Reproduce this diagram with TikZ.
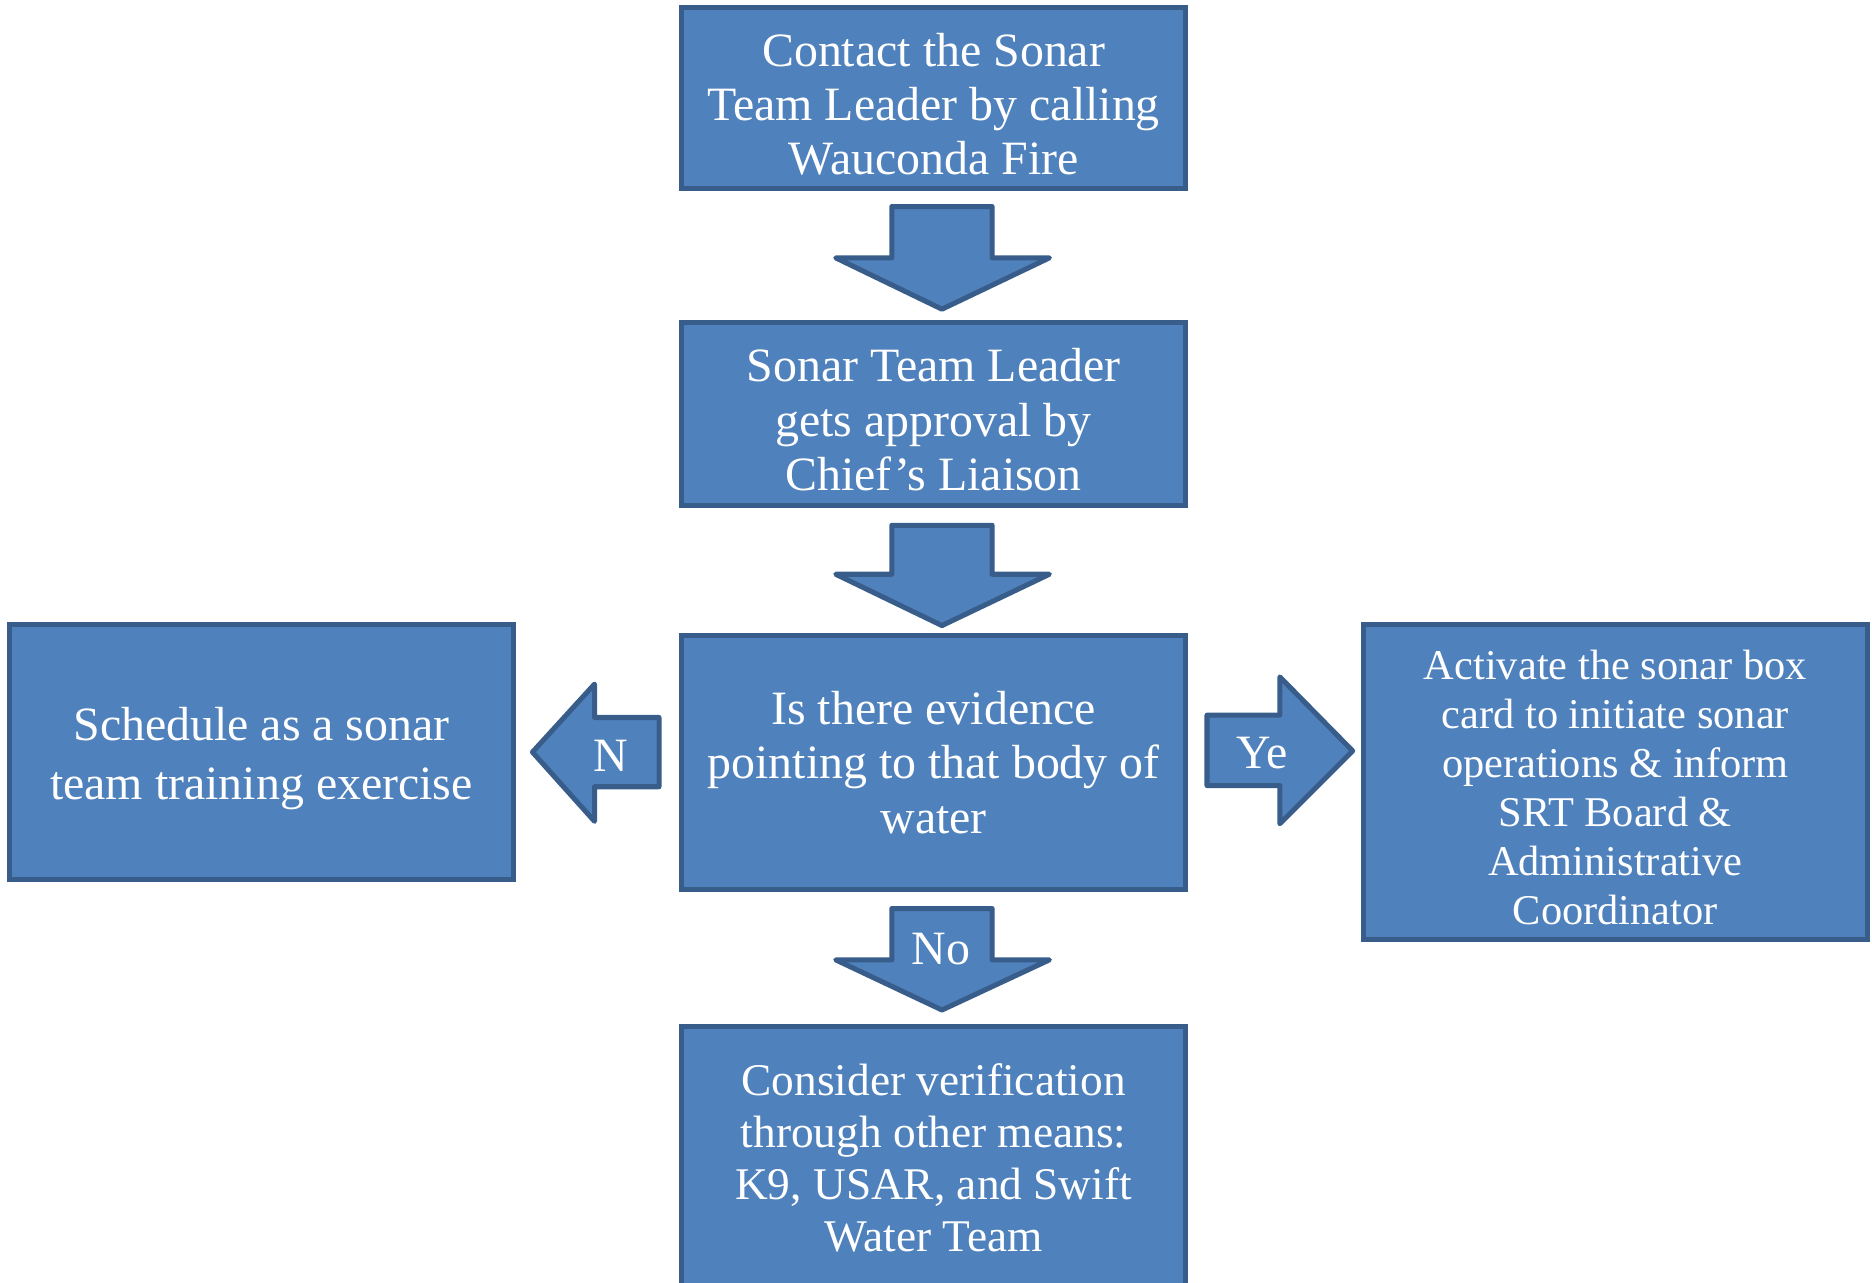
\documentclass[tikz,border=0pt]{standalone}
\usepackage{fontspec}
\setmainfont{Liberation Serif}
\definecolor{boxfill}{HTML}{4F81BD}
\definecolor{boxline}{HTML}{385D8A}
\begin{document}
\begin{tikzpicture}[x=0.01cm,y=-0.01cm,
  box/.style={draw=boxline,fill=boxfill,line width=1.2pt,text=white,align=center,
    inner ysep=0pt,minimum width=4.22cm,font=\fontsize{11.4}{12.95}\selectfont},
  blockarrow/.style={draw=boxline,fill=boxfill,line width=1.2pt,line join=round},
  arrowtext/.style={text=white,font=\fontsize{11.4}{13.7}\selectfont}]
\useasboundingbox (0,0) rectangle (1568,1074);
\clip (0,0) rectangle (1568,1074);
\node[box,minimum height=1.52cm] (contact) at (782,82) {\rule{0pt}{10.9pt}Contact the Sonar\\Team Leader by calling\\Wauconda Fire};
\node[box,minimum height=1.53cm] (approval) at (782,346.5) {\rule{0pt}{10.9pt}Sonar Team Leader\\gets approval by\\Chief’s Liaison};
\node[box,minimum height=2.13cm] (evidence) at (782,638.5) {Is there evidence\\pointing to that body of\\water};
\node[box,minimum height=2.14cm,font=\fontsize{11.4}{13.9}\selectfont] (schedule) at (219,630) {\rule{0pt}{10.9pt}Schedule as a sonar\\team training exercise};
\node[box,minimum height=2.64cm,font=\fontsize{10.1}{11.65}\selectfont] (activate) at (1353,655) {\rule{0pt}{9.6pt}Activate the sonar box\\card to initiate sonar\\operations \& inform\\SRT Board \&\\Administrative\\Coordinator};
\node[box,minimum height=2.2cm,font=\fontsize{10.8}{12.4}\selectfont] (verify) at (782,970) {Consider verification\\through other means:\\K9, USAR, and Swift\\Water Team};
\draw[blockarrow] (747,173) -- (831,173) -- (831,216) -- (879,216) -- (789,259) -- (700,216) -- (747,216) -- cycle;
\draw[blockarrow] (747,440) -- (831,440) -- (831,481) -- (879,481) -- (789,524) -- (700,481) -- (747,481) -- cycle;
\draw[blockarrow] (747,761) -- (831,761) -- (831,804) -- (879,804) -- (789,846) -- (700,804) -- (747,804) -- cycle;
\draw[blockarrow] (552,601) -- (498,601) -- (498,573) -- (446,630) -- (498,688) -- (498,659) -- (552,659) -- cycle;
\draw[blockarrow] (1011,599) -- (1072,599) -- (1072,567) -- (1133,629) -- (1072,690) -- (1072,658) -- (1011,658) -- cycle;
\node[arrowtext] (no) at (512,633) {N};
\node[arrowtext] (yes) at (1057,631) {Ye};
\node[arrowtext] (nobelow) at (788,795) {No};
\end{tikzpicture}
\end{document}
